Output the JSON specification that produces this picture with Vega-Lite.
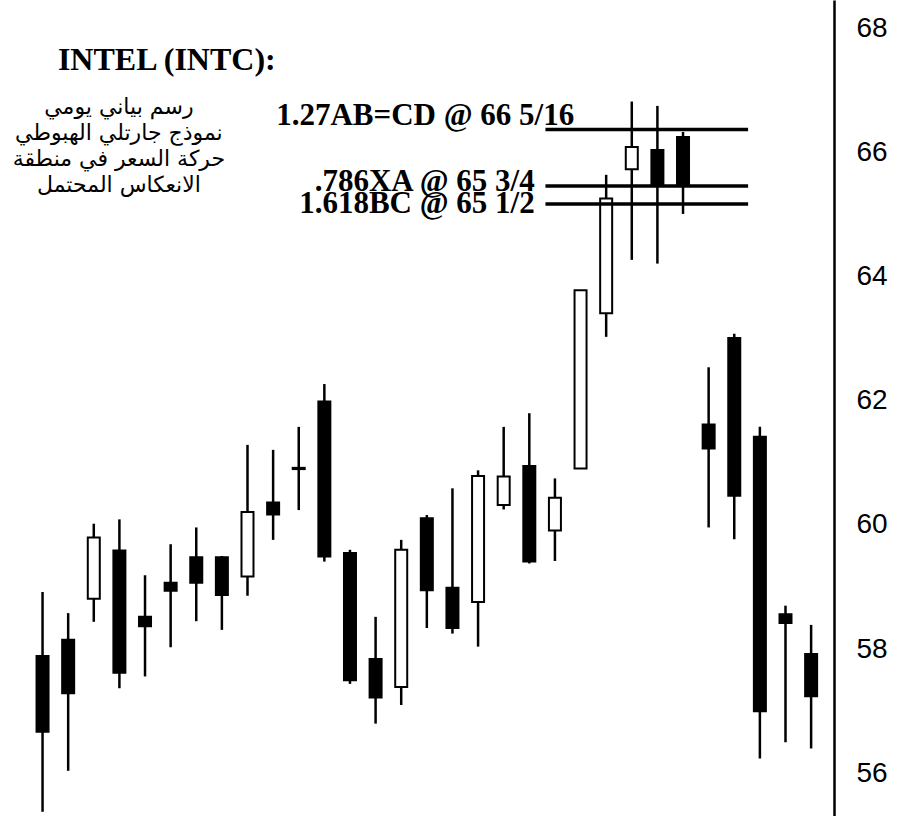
{
  "$schema": "https://vega.github.io/schema/vega-lite/v6.json",
  "width": 834,
  "height": 816,
  "autosize": {"type": "none"},
  "padding": {"left": 0, "top": 0, "right": 65, "bottom": 0},
  "background": "white",
  "config": {"view": {"stroke": null}},
  "datasets": {
    "candles": [
      {"i": 1, "open": 57.89, "high": 58.92, "low": 55.38, "close": 56.67, "dir": "down"},
      {"i": 2, "open": 58.15, "high": 58.58, "low": 56.04, "close": 57.29, "dir": "down"},
      {"i": 3, "open": 58.81, "high": 60.02, "low": 58.44, "close": 59.80, "dir": "up"},
      {"i": 4, "open": 59.59, "high": 60.09, "low": 57.37, "close": 57.62, "dir": "down"},
      {"i": 5, "open": 58.52, "high": 59.19, "low": 57.56, "close": 58.37, "dir": "down"},
      {"i": 6, "open": 59.07, "high": 59.69, "low": 58.03, "close": 58.94, "dir": "down"},
      {"i": 7, "open": 59.48, "high": 59.96, "low": 58.45, "close": 59.07, "dir": "down"},
      {"i": 8, "open": 59.48, "high": 59.50, "low": 58.31, "close": 58.87, "dir": "down"},
      {"i": 9, "open": 59.17, "high": 61.29, "low": 58.86, "close": 60.21, "dir": "up"},
      {"i": 10, "open": 60.36, "high": 61.21, "low": 59.76, "close": 60.17, "dir": "down"},
      {"i": 11, "open": 60.92, "high": 61.58, "low": 60.24, "close": 60.90, "dir": "down"},
      {"i": 12, "open": 61.99, "high": 62.27, "low": 59.41, "close": 59.49, "dir": "down"},
      {"i": 13, "open": 59.55, "high": 59.60, "low": 57.44, "close": 57.50, "dir": "down"},
      {"i": 14, "open": 57.84, "high": 58.52, "low": 56.80, "close": 57.22, "dir": "down"},
      {"i": 15, "open": 57.39, "high": 59.76, "low": 57.10, "close": 59.60, "dir": "up"},
      {"i": 16, "open": 60.11, "high": 60.16, "low": 58.34, "close": 58.95, "dir": "down"},
      {"i": 17, "open": 58.99, "high": 60.59, "low": 58.25, "close": 58.34, "dir": "down"},
      {"i": 18, "open": 58.76, "high": 60.88, "low": 58.04, "close": 60.79, "dir": "up"},
      {"i": 19, "open": 60.32, "high": 61.58, "low": 60.25, "close": 60.78, "dir": "up"},
      {"i": 20, "open": 60.95, "high": 61.80, "low": 59.38, "close": 59.41, "dir": "down"},
      {"i": 21, "open": 59.91, "high": 60.75, "low": 59.42, "close": 60.44, "dir": "up"},
      {"i": 22, "open": 60.91, "high": 63.78, "low": 60.91, "close": 63.78, "dir": "up"},
      {"i": 23, "open": 63.41, "high": 65.64, "low": 63.03, "close": 65.26, "dir": "up"},
      {"i": 24, "open": 65.73, "high": 66.82, "low": 64.27, "close": 66.09, "dir": "up"},
      {"i": 25, "open": 66.04, "high": 66.75, "low": 64.21, "close": 65.48, "dir": "down"},
      {"i": 26, "open": 66.25, "high": 66.33, "low": 65.01, "close": 65.46, "dir": "down"},
      {"i": 27, "open": 61.62, "high": 62.54, "low": 59.96, "close": 61.23, "dir": "down"},
      {"i": 28, "open": 63.01, "high": 63.08, "low": 59.77, "close": 60.47, "dir": "down"},
      {"i": 29, "open": 61.42, "high": 61.58, "low": 56.24, "close": 57.00, "dir": "down"},
      {"i": 30, "open": 58.56, "high": 58.70, "low": 56.50, "close": 58.42, "dir": "down"},
      {"i": 31, "open": 57.92, "high": 58.39, "low": 56.40, "close": 57.24, "dir": "down"}
    ],
    "levels": [
      {"x1": 20.63, "x2": 28.54, "v": 66.37},
      {"x1": 20.63, "x2": 28.54, "v": 65.46},
      {"x1": 20.63, "x2": 28.54, "v": 65.17}
    ],
    "labels": [
      {"x": 21.75, "y": 66.44, "t": "1.27AB=CD @ 66 5/16"},
      {"x": 20.21, "y": 65.38, "t": ".786XA @ 65 3/4"},
      {"x": 20.21, "y": 65.03, "t": "1.618BC @ 65 1/2"}
    ],
    "title": [
      {"x": 1.6, "y": 67.33, "t": "INTEL (INTC):"}
    ],
    "arabic": [
      {"x": 3.98, "y": 66.74, "t": "رسم بياني يومي"},
      {"x": 3.98, "y": 66.32, "t": "نموذج جارتلي الهبوطي"},
      {"x": 3.98, "y": 65.90, "t": "حركة السعر في منطقة"},
      {"x": 3.98, "y": 65.48, "t": "الانعكاس المحتمل"}
    ]
  },
  "layer": [
    {
      "data": {"name": "candles"},
      "mark": {"type": "rule", "color": "black", "strokeWidth": 2.5},
      "encoding": {
        "x": {"field": "i", "type": "quantitative", "scale": {"domain": [-0.4655, 31.698], "nice": false, "zero": false}, "axis": null},
        "y": {"field": "low", "type": "quantitative", "scale": {"domain": [55.312, 68.456], "nice": false, "zero": false},
          "axis": {"orient": "right", "title": null, "values": [56, 58, 60, 62, 64, 66, 68], "format": "d", "grid": false, "ticks": false, "tickSize": 0,
            "domain": true, "domainColor": "black", "domainWidth": 2.5, "labelFont": "Liberation Sans", "labelFontSize": 28,
            "labelColor": "black", "labelPadding": 22, "labelAlign": "left", "labelBaseline": "middle", "labelOverlap": false}},
        "y2": {"field": "high"}
      }
    },
    {
      "data": {"name": "candles"},
      "mark": {"type": "bar", "size": 12, "stroke": "black", "strokeWidth": 2},
      "encoding": {
        "x": {"field": "i", "type": "quantitative"},
        "y": {"field": "open", "type": "quantitative"},
        "y2": {"field": "close"},
        "fill": {"field": "dir", "type": "nominal", "scale": {"domain": ["up", "down"], "range": ["white", "black"]}, "legend": null}
      }
    },
    {
      "data": {"name": "levels"},
      "mark": {"type": "rule", "color": "black", "strokeWidth": 3.5},
      "encoding": {
        "x": {"field": "x1", "type": "quantitative"},
        "x2": {"field": "x2"},
        "y": {"field": "v", "type": "quantitative"}
      }
    },
    {
      "data": {"name": "labels"},
      "mark": {"type": "text", "align": "right", "baseline": "alphabetic", "font": "Liberation Serif", "fontWeight": "bold", "fontSize": 31, "color": "black"},
      "encoding": {
        "x": {"field": "x", "type": "quantitative"},
        "y": {"field": "y", "type": "quantitative"},
        "text": {"field": "t"}
      }
    },
    {
      "data": {"name": "title"},
      "mark": {"type": "text", "align": "left", "baseline": "alphabetic", "font": "Liberation Serif", "fontWeight": "bold", "fontSize": 32, "color": "black"},
      "encoding": {
        "x": {"field": "x", "type": "quantitative"},
        "y": {"field": "y", "type": "quantitative"},
        "text": {"field": "t"}
      }
    },
    {
      "data": {"name": "arabic"},
      "mark": {"type": "text", "align": "center", "baseline": "middle", "font": "DejaVu Sans", "fontSize": 22, "color": "black"},
      "encoding": {
        "x": {"field": "x", "type": "quantitative"},
        "y": {"field": "y", "type": "quantitative"},
        "text": {"field": "t"}
      }
    }
  ]
}
